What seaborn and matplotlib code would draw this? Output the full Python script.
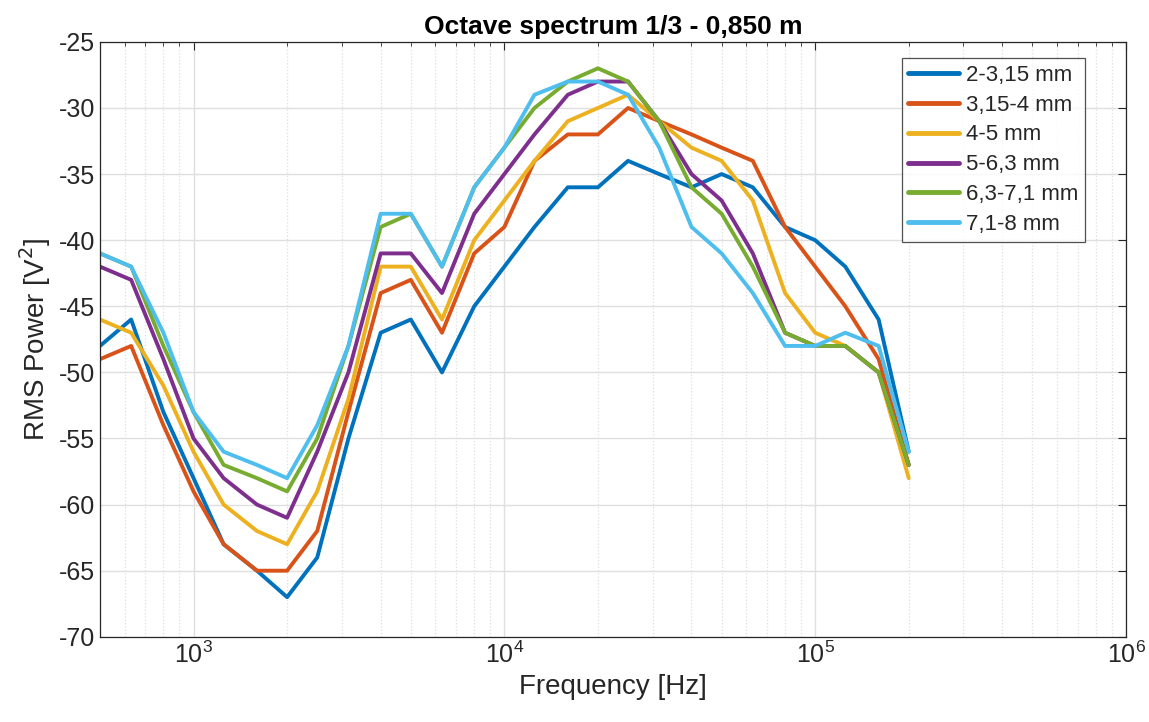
import numpy as np
import pandas as pd
import seaborn as sns
import matplotlib.pyplot as plt

# 1/3 octave band centre frequencies
freqs = [500, 630, 800, 1000, 1250, 1600, 2000, 2500, 3150, 4000, 5000, 6300,
         8000, 10000, 12500, 16000, 20000, 25000, 31500, 40000, 50000, 63000,
         80000, 100000, 125000, 160000, 200000]

labels = ['2-3,15 mm', '3,15-4 mm', '4-5 mm', '5-6,3 mm', '6,3-7,1 mm', '7,1-8 mm']

p_2_315 = [-48, -46, -53, -58, -63, -65, -67, -64, -55, -47, -46, -50, -45, -42, -39, -36,
           -36, -34, -35, -36, -35, -36, -39, -40, -42, -46, -56]
p_315_4 = [-49, -48, -54, -59, -63, -65, -65, -62, -53, -44, -43, -47, -41, -39, -34, -32,
           -32, -30, -31, -32, -33, -34, -39, -42, -45, -49, -57]
p_4_5 = [-46, -47, -51, -56, -60, -62, -63, -59, -52, -42, -42, -46, -40, -37, -34, -31,
         -30, -29, -31, -33, -34, -37, -44, -47, -48, -50, -58]
p_5_63 = [-42, -43, -49, -55, -58, -60, -61, -56, -50, -41, -41, -44, -38, -35, -32, -29,
          -28, -28, -31, -35, -37, -41, -47, -48, -48, -50, -57]
p_63_71 = [-41, -42, -48, -53, -57, -58, -59, -55, -48, -39, -38, -42, -36, -33, -30, -28,
           -27, -28, -31, -36, -38, -42, -47, -48, -48, -50, -57]
p_71_8 = [-41, -42, -47, -53, -56, -57, -58, -54, -48, -38, -38, -42, -36, -33, -29, -28,
          -28, -29, -33, -39, -41, -44, -48, -48, -47, -48, -56]

series = [p_2_315, p_315_4, p_4_5, p_5_63, p_63_71, p_71_8]
colors = ['#0072BD', '#D95319', '#EDB120', '#7E2F8E', '#77AC30', '#4DBEEE']

df = pd.concat([pd.DataFrame({'f': freqs, 'p': s, 'band': lab})
                for s, lab in zip(series, labels)], ignore_index=True)

sns.set_style('white')
plt.rcParams['font.family'] = ['Liberation Sans', 'DejaVu Sans']
plt.rcParams['axes.unicode_minus'] = False

fig = plt.figure(figsize=(11.49, 7.22), dpi=100)
ax = fig.add_axes([0.087, 0.118, 0.893, 0.824])

sns.lineplot(data=df, x='f', y='p', hue='band', palette=colors, linewidth=2.8,
             ax=ax, legend=True)

ax.set_xscale('log')
ax.set_xlim(500, 1e6)
ax.set_ylim(-70, -25)
ax.set_yticks(np.arange(-70, -24, 5))
ax.grid(True, which='major', color='#dfdfdf', linewidth=1.0)
ax.grid(True, which='minor', color='#dfdfdf', linestyle=':', linewidth=0.9)
ax.tick_params(which='both', direction='in', top=True, right=True, labelsize=18,
               colors='#262626')
ax.tick_params(which='major', length=6)
ax.tick_params(which='minor', length=3)
for sp in ax.spines.values():
    sp.set_color('#262626')
    sp.set_linewidth(0.9)

ax.set_xlabel('Frequency [Hz]', fontsize=20, color='#262626')
ax.set_ylabel('RMS Power [V$^2$]', fontsize=20, color='#262626')
ax.set_title('Octave spectrum 1/3 - 0,850 m', fontsize=19, fontweight='bold',
             color='black', pad=6)

leg = ax.legend(loc='upper right', bbox_to_anchor=(1085 / 1149, 1 - 58 / 722),
                bbox_transform=fig.transFigure, borderaxespad=0,
                fontsize=16, frameon=True, fancybox=False,
                edgecolor='#262626', handlelength=2.3, handletextpad=0.3,
                labelspacing=0.4, borderpad=0.3)
leg.get_frame().set_linewidth(0.9)
for line in leg.get_lines():
    line.set_linewidth(3.5)

fig.savefig('out.png', dpi=100)
